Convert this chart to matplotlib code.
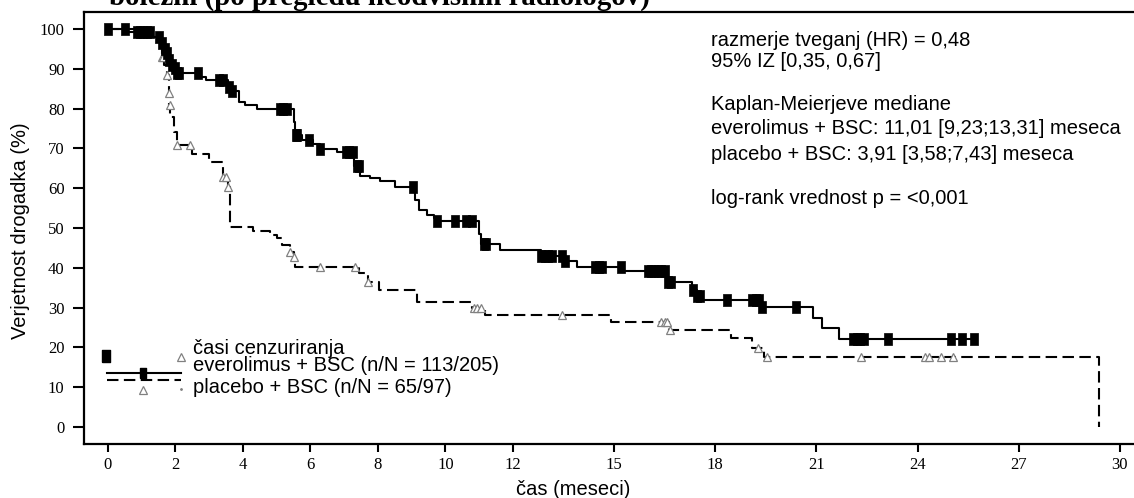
import numpy as np
import matplotlib
matplotlib.use("Agg")
import matplotlib.pyplot as plt
from matplotlib.path import Path

# ---------------- data ----------------
evr_times = [0.6, 1.3, 1.55, 1.65, 1.75, 1.8, 1.85, 1.95, 2.05, 2.7, 2.9, 3.55, 3.65, 3.87,
             4.07, 4.41, 5.5, 5.55, 5.75, 6.09, 6.3, 6.78, 7.28, 7.48, 7.77, 8.07, 8.52,
             9.1, 9.21, 9.46, 9.66, 9.75, 10.99, 11.05, 11.63, 12.85, 13.5, 13.9, 15.25,
             16.55, 17.3, 17.45, 17.6, 19.33, 20.9, 21.18, 21.66]
evr_surv = [99.3, 98.1, 96.5, 95.0, 93.9, 92.2, 91.0, 90.1, 88.9, 88.0, 87.2, 85.5, 84.4, 81.7,
            80.9, 79.8, 76.7, 73.4, 72.1, 71.2, 69.9, 69.2, 65.6, 63.1, 62.5, 61.7, 60.4,
            57.0, 54.5, 53.3, 52.4, 51.8, 48.5, 46.1, 44.4, 43.0, 41.7, 40.1, 39.2,
            36.5, 34.5, 33.0, 31.9, 30.2, 27.3, 24.8, 22.0]
evr_last = 25.68
evr_cens = [0.0, 0.5, 0.85, 0.95, 1.05, 1.15, 1.25, 1.5, 1.6, 1.68, 1.75, 1.8, 1.9, 2.0, 2.05,
            2.1, 2.68, 3.28, 3.4, 3.6, 3.68, 5.1, 5.2, 5.3, 5.56, 5.6, 5.95, 6.3, 7.05, 7.15,
            7.25, 7.38, 7.45, 9.03, 9.75, 10.3, 10.6, 10.8, 11.15, 11.2, 12.85, 12.95, 13.05,
            13.15, 13.45, 13.55, 14.45, 14.55, 14.65, 15.2, 16.0, 16.1, 16.2, 16.3, 16.4,
            16.5, 16.6, 16.7, 17.35, 17.45, 17.55, 18.35, 19.1, 19.2, 19.3, 19.38, 20.4,
            22.1, 22.2, 22.3, 22.4, 23.13, 24.98, 25.33, 25.68]

pla_times = [1.0, 1.5, 1.6, 1.65, 1.75, 1.8, 1.82, 1.85, 1.95, 2.05, 2.5, 3.0, 3.42, 3.55,
             3.62, 4.3, 4.8, 5.0, 5.15, 5.4, 5.5, 5.53, 7.43, 7.7, 8.02, 9.16, 10.8, 11.19,
             14.9, 16.63, 18.46, 19.1, 19.44, 29.38]
pla_surv = [98.0, 96.0, 93.0, 91.0, 88.5, 84.0, 81.0, 78.0, 74.0, 70.9, 68.5, 66.7, 62.9, 60.4,
            50.3, 49.3, 48.2, 47.4, 45.7, 44.0, 42.8, 40.3, 38.6, 36.5, 34.4, 31.5, 29.8, 28.1,
            26.3, 24.4, 22.3, 19.8, 17.5, 0.0]
pla_cens = [1.6, 1.62, 1.75, 1.8, 1.83, 2.05, 2.43, 3.42, 3.5, 3.55, 5.4, 5.52, 6.29, 7.33,
            7.72, 10.85, 10.95, 11.05, 13.46, 16.4, 16.5, 16.58, 16.65, 19.28, 19.55, 22.31,
            24.22, 24.33, 24.69, 25.06]

x_ticks = [0, 2, 4, 6, 8, 10, 12, 15, 18, 21, 24, 27, 30]
y_ticks = [0, 10, 20, 30, 40, 50, 60, 70, 80, 90, 100]

title_text = "bolezni (po pregledu neodvisnih radiologov)"
ann_lines = [
    "razmerje tveganj (HR) = 0,48",
    "95% IZ [0,35, 0,67]",
    "Kaplan-Meierjeve mediane",
    "everolimus + BSC: 11,01 [9,23;13,31] meseca",
    "placebo + BSC: 3,91 [3,58;7,43] meseca",
    "log-rank vrednost p = <0,001",
]
legend_labels = ["časi cenzuriranja",
                 "everolimus + BSC (n/N = 113/205)",
                 "placebo + BSC (n/N = 65/97)"]

# ---------------- helpers ----------------
def step_value(times, surv, t):
    tt = np.asarray(times)
    ss = np.concatenate([[100.0], np.asarray(surv)])
    idx = np.searchsorted(tt, np.asarray(t), side="right")
    return ss[idx]

SANS = ["Liberation Sans", "DejaVu Sans"]
SERIF = ["Liberation Serif", "DejaVu Serif"]
FS = 14.5

W, H = 1134, 498
fig = plt.figure(figsize=(W / 100, H / 100), dpi=100)
L, R, T, B = 84, 1134, 12, 444
ax = fig.add_axes([L / W, 1 - B / H, (R - L) / W, (B - T) / H])

x0px, kx = 108.0, 33.73
y0px, ky = 427.0, 3.98
ax.set_xlim((L - x0px) / kx, (R - x0px) / kx)
ax.set_ylim((y0px - B) / ky, (y0px - T) / ky)

rect = Path([(-0.32, -0.5), (0.32, -0.5), (0.32, 0.5), (-0.32, 0.5), (-0.32, -0.5)])

# placebo
px = np.concatenate([[0.0], pla_times])
py = np.concatenate([[100.0], pla_surv])
ax.step(px, py, where="post", color="black", lw=1.5, dashes=(5.5, 2.6))
ax.plot(pla_cens, step_value(pla_times, pla_surv, pla_cens), ls="none", marker="^",
        ms=5.5, mfc="white", mec="#808080", mew=0.9)

# everolimus
ex = np.concatenate([[0.0], evr_times, [evr_last]])
ey = np.concatenate([[100.0], evr_surv, [evr_surv[-1]]])
ax.step(ex, ey, where="post", color="black", lw=1.5)
ax.plot(evr_cens, step_value(evr_times, evr_surv, evr_cens), ls="none", marker=rect,
        ms=9, mfc="black", mec="black", mew=0.5)

# axes styling
for s in ["top", "left", "bottom"]:
    ax.spines[s].set_linewidth(1.6)
ax.spines["right"].set_visible(False)
ax.set_xticks(x_ticks)
ax.set_yticks(y_ticks)
ax.tick_params(axis="both", direction="out", width=1.5, labelsize=12)
ax.tick_params(axis="x", length=6, pad=3)
ax.tick_params(axis="y", length=8, pad=6)
for lab in ax.get_xticklabels() + ax.get_yticklabels():
    lab.set_fontfamily(SERIF)

fig.text(573 / W, 1 - 489 / H, "čas (meseci)", ha="center", va="center",
         fontsize=FS, family=SANS)
fig.text(21 / W, 1 - 231 / H, "Verjetnost drogadka (%)", ha="center", va="center",
         rotation=90, fontsize=FS, family=SANS)

# title (cut at top)
fig.text(109 / W, 1 - 5 / H, title_text, ha="left", va="baseline", fontsize=20.8,
         fontweight="bold", family=SERIF)

# annotations
ann_y = [40, 61.7, 105, 128.3, 155, 198.3]
for txt, yy in zip(ann_lines, ann_y):
    fig.text(711 / W, 1 - yy / H, txt, ha="left", va="center", fontsize=FS, family=SANS)

# legend (manual)
def axf(pxx, pyy):
    return (pxx - L) / (R - L), (B - pyy) / (B - T)

tr = ax.transAxes
ax.plot(*axf(106.4, 356), transform=tr, marker=rect, ms=9, color="black", ls="none")
ax.plot(*axf(181.4, 356.7), transform=tr, marker="^", ms=5.5, mfc="white",
        mec="#808080", mew=0.9, ls="none")
xa, ya = axf(107, 372.7)
xb, _ = axf(181, 372.7)
ax.plot([xa, xb], [ya, ya], transform=tr, color="black", lw=1.5)
ax.plot(*axf(142.9, 372.7), transform=tr, marker=rect, ms=7, color="black", ls="none")
_, yd = axf(107, 380)
ax.plot([xa, xb], [yd, yd], transform=tr, color="black", lw=1.5, dashes=(5.5, 2.6))
ax.plot(*axf(142.9, 390), transform=tr, marker="^", ms=5.5, mfc="white",
        mec="#808080", mew=0.9, ls="none")
ax.plot(*axf(181.4, 389.3), transform=tr, marker=".", ms=2, color="#808080", ls="none")
for txt, yy in zip(legend_labels, [348.3, 365.5, 387.5]):
    ax.text(*axf(192.9, yy), txt, transform=tr, ha="left", va="center", fontsize=FS,
            family=SANS)

fig.savefig("out.png", dpi=100)
